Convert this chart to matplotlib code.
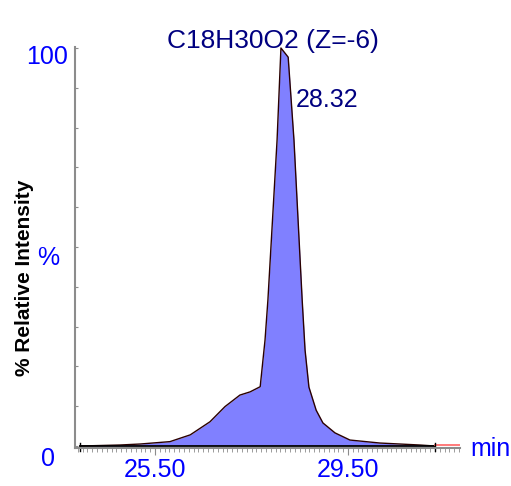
import matplotlib

matplotlib.use("Agg")
import matplotlib.pyplot as plt
from matplotlib.ticker import FixedLocator, MultipleLocator

plt.rcParams["font.family"] = ["Liberation Sans", "DejaVu Sans"]

# chromatogram trace (retention time in min, % relative intensity)
rt = [23.95, 24.77, 25.19, 25.81, 26.23, 26.64, 26.95, 27.26, 27.47, 27.68,
      27.78, 27.84, 28.03, 28.11, 28.26, 28.38, 28.55, 28.61, 28.69, 28.84,
      28.98, 29.23, 29.54, 30.16, 30.99, 31.30]
intensity = [0.0, 0.25, 0.5, 1.1, 2.8, 6.1, 9.9, 12.8, 13.6, 14.9,
             26.6, 36.7, 76.9, 100.0, 97.7, 76.9, 36.7, 24.1, 14.8, 9.0,
             5.8, 3.3, 1.5, 0.75, 0.25, 0.0]
tail_rt = [31.30, 31.82]
tail_int = [0.25, 0.25]

title = "C18H30O2 (Z=-6)"
peak_label = "28.32"
xtick_vals = [25.5, 29.5]
xtick_text = ["25.50", "29.50"]

NAVY = "#000080"
BLUE = "#0000ff"
GRAY = "#8c8c8c"

W, H = 511, 486
fig = plt.figure(figsize=(W / 100, H / 100), dpi=100)
ax = fig.add_axes([75 / W, (H - 448) / H, 385 / W, 401 / H])
ax.set_xlim(23.842, 31.821)
ax.set_ylim(-0.5, 100.25)

ax.fill_between(rt, intensity, 0, color="#8080ff", lw=0)
ax.plot(rt, intensity, color="#2a0000", lw=1.0)
ax.plot([rt[0], rt[-1]], [0, 0], color="black", lw=1.3)
ax.plot(tail_rt, tail_int, color="#ff7070", lw=1.3)
for t in (rt[0], rt[-1]):
    ax.plot([t, t], [-1.2, 0.8], color="black", lw=1.0, clip_on=False)

for side in ("top", "right"):
    ax.spines[side].set_visible(False)
for side in ("left", "bottom"):
    ax.spines[side].set_color(GRAY)
    ax.spines[side].set_linewidth(1.5)

ax.xaxis.set_major_locator(FixedLocator(xtick_vals))
ax.set_xticklabels(xtick_text, fontsize=18, color=BLUE)
ax.xaxis.set_minor_locator(MultipleLocator(0.1))
ax.tick_params(axis="x", which="major", length=5, color=GRAY, pad=2)
ax.tick_params(axis="x", which="minor", length=3, color=GRAY)
ax.yaxis.set_major_locator(MultipleLocator(10))
ax.tick_params(axis="y", which="major", direction="in", length=2, color=GRAY,
               labelleft=False)

fig.text(68 / W, 1 - 57 / H, "100", fontsize=18, color=BLUE, ha="right", va="center")
fig.text(48 / W, 1 - 258 / H, "%", fontsize=18, color=BLUE, ha="center", va="center")
fig.text(48 / W, 1 - 459 / H, "0", fontsize=18, color=BLUE, ha="center", va="center")
fig.text(490 / W, 1 - 449 / H, "min", fontsize=18, color=BLUE, ha="center", va="center")
fig.text(273 / W, 1 - 41 / H, title, fontsize=19, color=NAVY, ha="center", va="center")
fig.text(327 / W, 1 - 100 / H, peak_label, fontsize=18, color=NAVY, ha="center", va="center")
fig.text(25 / W, 1 - 278 / H, "% Relative Intensity", fontsize=15, fontweight="bold",
         rotation=90, ha="center", va="center")

fig.savefig("out.png", dpi=100)
